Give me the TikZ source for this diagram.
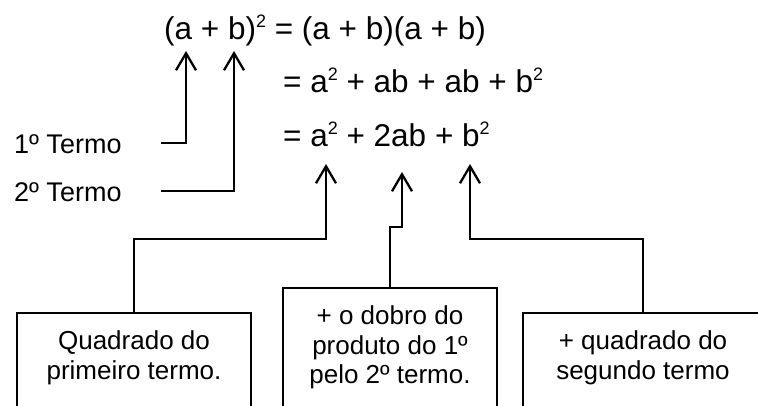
\documentclass[tikz,border=0pt]{standalone}
\usepackage{fontspec}
\setmainfont{Liberation Sans}
\usepackage{tikz}
\usetikzlibrary{arrows.meta}

\newcommand{\sqd}{\raisebox{12.5pt}{\fontsize{18pt}{18pt}\selectfont 2}}

\begin{document}
\begin{tikzpicture}[x=1pt,y=-1pt,line width=2.3pt,
  eqrow/.style={anchor=base west,inner sep=0pt,font=\fontsize{31.5pt}{34pt}\selectfont},
  termlbl/.style={anchor=base west,inner sep=0pt,font=\fontsize{27pt}{30pt}\selectfont},
  notebox/.style={draw,anchor=north,align=center,inner xsep=0pt,inner ysep=18pt,
    text depth=100pt,font=\fontsize{26pt}{29.5pt}\selectfont},
  conn/.style={-{Straight Barb[length=17pt,width=20pt]},line join=miter}]
  \useasboundingbox (0,0) rectangle (758,406);
  \clip (0,0) rectangle (758,406);

  % the identity
  \node[eqrow] (r1) at (163,40) {(a + b)\sqd{} = (a + b)(a + b)};
  \node[eqrow] (r2) at (282,93) {= a\sqd{} + ab + ab + b\sqd};
  \node[eqrow] (r3) at (282,147) {= a\sqd{} + 2ab + b\sqd};

  % labels of the two terms
  \node[termlbl] (t1) at (13,154) {1º Termo};
  \node[termlbl] (t2) at (13,202) {2º Termo};
  \coordinate (s1) at (161,143);
  \coordinate (s2) at (161,191);
  \coordinate (ta) at (186,51);
  \coordinate (tb) at (234,51);

  % boxes under the result
  \node[notebox,minimum width=234pt] (q1) at (134,312) {Quadrado do\\primeiro termo.};
  \node[notebox,minimum width=214pt] (q2) at (390,287) {+ o dobro do\\produto do 1º\\pelo 2º termo.};
  \node[notebox,minimum width=240pt] (q3) at (643,312) {+ quadrado do\\segundo termo};
  \coordinate (pa) at (326,164);
  \coordinate (pb) at (402,172);
  \coordinate (pc) at (470,164);

  \draw[conn] (s1) -| (ta);
  \draw[conn] (s2) -| (tb);
  \draw[conn] (q1.north) -- ++(0,-73) -| (pa);
  \draw[conn] (q2.north) -- ++(0,-60) -| (pb);
  \draw[conn] (q3.north) -- ++(0,-73) -| (pc);
\end{tikzpicture}
\end{document}
